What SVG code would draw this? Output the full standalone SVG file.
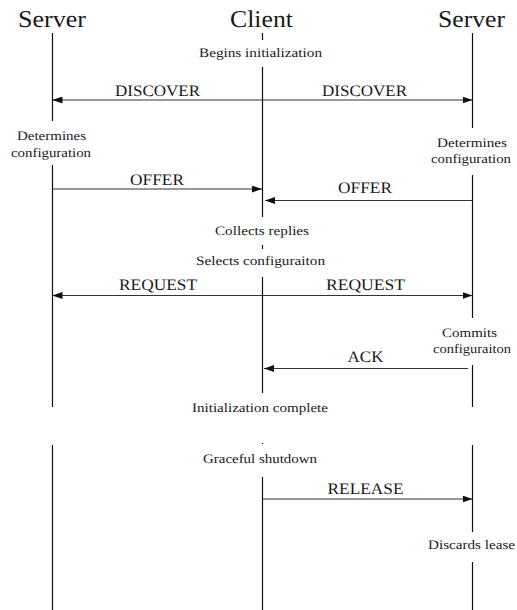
<svg xmlns="http://www.w3.org/2000/svg" width="517" height="610" viewBox="0 0 517 610" font-family="'Liberation Serif', 'Times New Roman', Times, serif">
  <style>
    text { font-family: "Liberation Serif", "Times New Roman", Times, serif; fill: #1a1a1a; text-anchor: middle; text-rendering: geometricPrecision; }
    .head { font-size: 24px; }
    .msg { font-size: 16px; }
    .note { font-size: 13px; }
    .life { stroke: #111; stroke-width: 1.2; fill: none; }
    .arrow { stroke: #333; stroke-width: 1; fill: none; marker-end: url(#head); }
  </style>
  <defs>
    <marker id="head" markerUnits="userSpaceOnUse" markerWidth="10" markerHeight="7" refX="10" refY="3.5" orient="auto">
      <path d="M0,0 L10,3.5 L0,7 Z" fill="#111"/>
    </marker>
  </defs>
  <rect width="517" height="610" fill="#fff"/>

  <!-- left server lifeline -->
  <g id="server-left">
    <text class="head" x="52" y="27" textLength="68" lengthAdjust="spacingAndGlyphs">Server</text>
    <path class="life" d="M52.5,33 V121 M52.5,165 V407 M52.5,445 V610"/>
    <text class="note" x="51.5" y="140" textLength="69" lengthAdjust="spacingAndGlyphs">Determines</text>
    <text class="note" x="51" y="157" textLength="80" lengthAdjust="spacingAndGlyphs">configuration</text>
  </g>

  <!-- client lifeline -->
  <g id="client">
    <text class="head" x="261.5" y="27" textLength="63" lengthAdjust="spacingAndGlyphs">Client</text>
    <path class="life" d="M262.5,33 V40 M262.5,67 V217 M262.5,245 V249 M262.5,277 V393 M262.5,443 V444 M262.5,477 V610"/>
    <text class="note" x="260.5" y="57" textLength="123" lengthAdjust="spacingAndGlyphs">Begins initialization</text>
    <text class="note" x="262" y="235" textLength="94" lengthAdjust="spacingAndGlyphs">Collects replies</text>
    <text class="note" x="260.5" y="265" textLength="129" lengthAdjust="spacingAndGlyphs">Selects configuraiton</text>
    <text class="note" x="260" y="412" textLength="136" lengthAdjust="spacingAndGlyphs">Initialization complete</text>
    <text class="note" x="260" y="463" textLength="114" lengthAdjust="spacingAndGlyphs">Graceful shutdown</text>
  </g>

  <!-- right server lifeline -->
  <g id="server-right">
    <text class="head" x="471.5" y="27" textLength="67" lengthAdjust="spacingAndGlyphs">Server</text>
    <path class="life" d="M472.5,33 V128 M472.5,175 V318 M472.5,365 V407 M472.5,445 V532 M472.5,562 V610"/>
    <text class="note" x="472" y="147" textLength="70" lengthAdjust="spacingAndGlyphs">Determines</text>
    <text class="note" x="471" y="163" textLength="80" lengthAdjust="spacingAndGlyphs">configuration</text>
    <text class="note" x="469.5" y="337" textLength="55" lengthAdjust="spacingAndGlyphs">Commits</text>
    <text class="note" x="472" y="353" textLength="78" lengthAdjust="spacingAndGlyphs">configuraiton</text>
    <text class="note" x="471.5" y="549" textLength="87" lengthAdjust="spacingAndGlyphs">Discards lease</text>
  </g>

  <!-- messages -->
  <g id="connectors">
    <line class="arrow" x1="262.5" y1="100" x2="52.5" y2="100"/>
    <line class="arrow" x1="262.5" y1="100" x2="472.5" y2="100"/>
    <line class="arrow" x1="52.5" y1="189" x2="262" y2="189"/>
    <line class="arrow" x1="472.5" y1="200.5" x2="265" y2="200.5"/>
    <line class="arrow" x1="262.5" y1="295.5" x2="52.5" y2="295.5"/>
    <line class="arrow" x1="262.5" y1="295.5" x2="472.5" y2="295.5"/>
    <line class="arrow" x1="468" y1="368.5" x2="264" y2="368.5"/>
    <line class="arrow" x1="263" y1="499" x2="472.5" y2="499"/>
    <text class="msg" x="157.5" y="96" textLength="85" lengthAdjust="spacingAndGlyphs">DISCOVER</text>
    <text class="msg" x="364.5" y="96" textLength="85" lengthAdjust="spacingAndGlyphs">DISCOVER</text>
    <text class="msg" x="157" y="185" textLength="54" lengthAdjust="spacingAndGlyphs">OFFER</text>
    <text class="msg" x="365" y="193" textLength="54" lengthAdjust="spacingAndGlyphs">OFFER</text>
    <text class="msg" x="158" y="290" textLength="78" lengthAdjust="spacingAndGlyphs">REQUEST</text>
    <text class="msg" x="365.5" y="290" textLength="79" lengthAdjust="spacingAndGlyphs">REQUEST</text>
    <text class="msg" x="365.5" y="362" textLength="36" lengthAdjust="spacingAndGlyphs">ACK</text>
    <text class="msg" x="365.5" y="494" textLength="76" lengthAdjust="spacingAndGlyphs">RELEASE</text>
  </g>
</svg>
